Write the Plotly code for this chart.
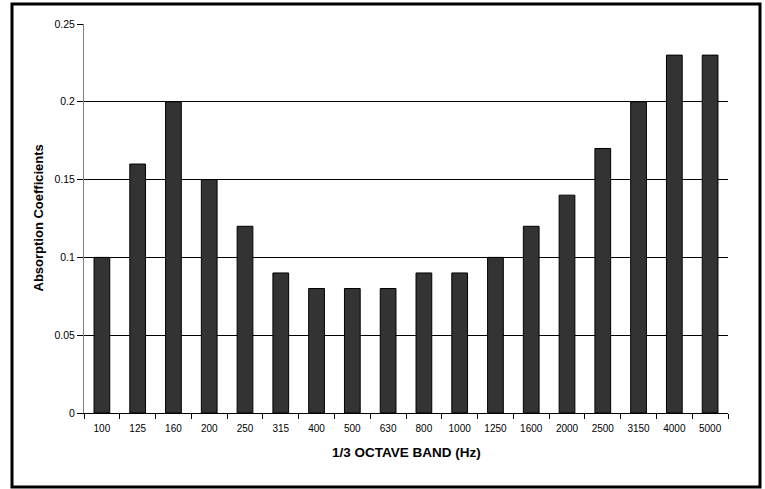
import plotly.graph_objects as go

bands = ["100", "125", "160", "200", "250", "315", "400", "500", "630", "800",
         "1000", "1250", "1600", "2000", "2500", "3150", "4000", "5000"]
coefficients = [0.10, 0.16, 0.20, 0.15, 0.12, 0.09, 0.08, 0.08, 0.08, 0.09,
                0.09, 0.10, 0.12, 0.14, 0.17, 0.20, 0.23, 0.23]
y_ticks = [0, 0.05, 0.1, 0.15, 0.2, 0.25]
y_tick_labels = ["0", "0.05", "0.1", "0.15", "0.2", "0.25"]

W, H = 765, 489
L, R, T, B = 84, 728, 24, 413
pw, ph = R - L, B - T

def px(x):
    return (x - L) / pw

def py(y):
    return (B - y) / ph

fig = go.Figure()
fig.add_trace(go.Bar(
    x=bands, y=coefficients,
    marker=dict(color="#333333", line=dict(color="#000000", width=1)),
    width=0.44,
))

font_family = "Liberation Sans, Arial, sans-serif"

fig.update_layout(
    width=W, height=H,
    margin=dict(l=L, r=W - R, t=T, b=H - B, pad=0),
    paper_bgcolor="white", plot_bgcolor="white",
    showlegend=False,
    font=dict(family=font_family, color="black", size=10),
    xaxis=dict(
        type="category", tickson="boundaries", ticks="outside", ticklen=5,
        tickcolor="black", showline=True, linecolor="black", linewidth=1,
        showgrid=False, tickfont=dict(size=10), automargin=False,
        ticklabelstandoff=6,
    ),
    yaxis=dict(
        range=[0, 0.25], tickvals=y_ticks, ticktext=y_tick_labels,
        ticks="outside", ticklen=6, tickcolor="black",
        showline=True, linecolor="#808080", linewidth=1,
        showgrid=True, gridcolor="black", gridwidth=1,
        zeroline=False, tickfont=dict(size=10.5), automargin=False,
    ),
    shapes=[dict(
        type="rect", xref="paper", yref="paper",
        x0=px(12), x1=px(760), y0=py(487), y1=py(4),
        line=dict(color="black", width=3), fillcolor="rgba(0,0,0,0)",
        layer="above",
    )],
    annotations=[
        dict(text="<b>1/3 OCTAVE BAND (Hz)</b>", xref="paper", yref="paper",
             x=0.5, y=py(453), xanchor="center", yanchor="middle",
             showarrow=False, font=dict(size=13.5, family=font_family)),
        dict(text="<b>Absorption Coefficients</b>", xref="paper", yref="paper",
             x=px(38), y=0.5, xanchor="center", yanchor="middle",
             textangle=-90, showarrow=False,
             font=dict(size=13, family=font_family)),
    ],
)

fig.write_html("out.html",
               config={"displayModeBar": False},
               post_script="document.body.style.margin='0';document.body.style.overflow='hidden';")
